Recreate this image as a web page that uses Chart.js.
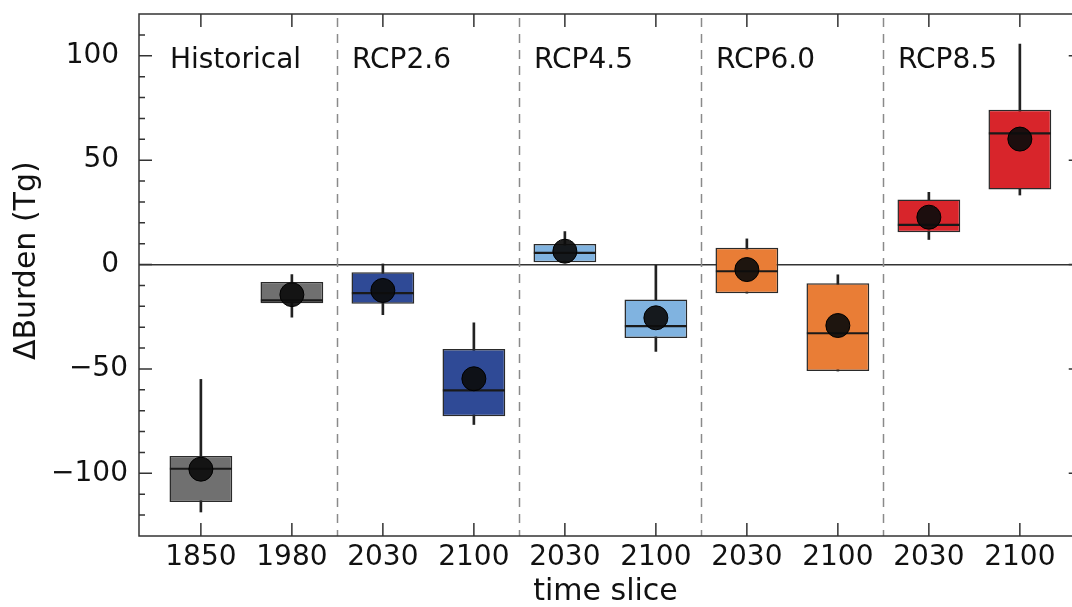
<!DOCTYPE html>
<html>
<head>
<meta charset="utf-8">
<script src="https://cdn.jsdelivr.net/npm/chart.js@4"></script>
<style>
    html, body { margin: 0; padding: 0; overflow: hidden; background: #fff; }
</style>
</head>
<body>
<canvas id="js-boxChart" width="1072" height="607"></canvas>
<script>
const sliceLabels = ['1850', '1980', '2030', '2100', '2030', '2100', '2030', '2100', '2030', '2100'];
const groupNames = ['Historical', 'RCP2.6', 'RCP4.5', 'RCP6.0', 'RCP8.5'];
const yTickValues = [-100, -50, 0, 50, 100];

const whiskerLow  = [-118.5, -25.2, -24.0, -76.6,  1.1, -41.6, -13.7, -51.0, 12.0,  33.3];
const whiskerHigh = [ -55.0,  -4.8,   0.3, -27.9, 15.8,   0.0,  12.3,  -4.9, 34.6, 105.6];
const boxLow      = [-113.7, -18.5, -18.8, -72.7,  1.1, -35.2, -13.7, -51.0, 15.5,  35.9];
const boxHigh     = [ -91.7,  -8.4,  -3.7, -40.4,  9.9, -16.7,   8.0,  -8.9, 31.1,  74.2];
const medians     = [ -97.8, -17.2, -13.7, -60.3,  5.6, -29.5,  -3.2, -32.9, 19.0,  62.8];
const means       = [ -98.0, -14.4, -12.4, -54.7,  6.4, -25.5,  -2.4, -29.2, 22.7,  60.1];

const boxColors = ['#707070', '#707070', '#2f4a96', '#2f4a96', '#80b3e0', '#80b3e0',
                   '#e97d36', '#e97d36', '#d8252b', '#d8252b'];

const textColor = '#111';
const fontFamily = '"DejaVu Sans", "Liberation Sans", sans-serif';

// the original frame runs a little past the cropped right edge of the figure
const frameMaxX = 9.68;

const chartElement = document.getElementById('js-boxChart');

// frame, inward ticks, scenario separators and scenario names
const framePlugin = {
    id: 'frame',
    beforeDatasetsDraw(chart) {
        const {ctx, chartArea: {top, bottom}, scales: {x}} = chart;
        ctx.save();
        ctx.strokeStyle = '#8a8a8a';
        ctx.lineWidth = 1.5;
        ctx.setLineDash([9, 7]);
        for (let g = 1; g < groupNames.length; g++) {
            const px = Math.round(x.getPixelForValue(2 * g - 0.5)) + 0.5;
            ctx.beginPath();
            ctx.moveTo(px, top + 4);
            ctx.lineTo(px, bottom);
            ctx.stroke();
        }
        ctx.restore();
    },
    afterDatasetsDraw(chart) {
        const {ctx, chartArea: {left, top, bottom}, scales: {x, y}} = chart;
        const right = x.getPixelForValue(frameMaxX);
        ctx.save();
        ctx.strokeStyle = '#333';
        ctx.lineWidth = 1.5;
        ctx.strokeRect(left, top, right - left, bottom - top);

        ctx.beginPath();
        for (let v = y.min + 10; v < y.max; v += 10) {
            const len = v % 50 === 0 ? 13 : 6;
            const py = y.getPixelForValue(v);
            ctx.moveTo(left, py);
            ctx.lineTo(left + len, py);
            ctx.moveTo(right, py);
            ctx.lineTo(right - len, py);
        }
        sliceLabels.forEach((_, i) => {
            const px = x.getPixelForValue(i);
            ctx.moveTo(px, bottom);
            ctx.lineTo(px, bottom - 13);
            ctx.moveTo(px, top);
            ctx.lineTo(px, top + 13);
        });
        ctx.stroke();

        ctx.fillStyle = textColor;
        ctx.font = '28px ' + fontFamily;
        ctx.textAlign = 'left';
        ctx.textBaseline = 'alphabetic';
        const py = y.getPixelForValue(100) + 12;
        groupNames.forEach((name, g) => {
            ctx.fillText(name, x.getPixelForValue(2 * g - 0.34), py);
        });
        ctx.restore();
    }
};

const chart = new Chart(chartElement, {
    type: 'bar',
    data: {
        datasets: [
            {
                type: 'bar',
                data: sliceLabels.map((_, i) => ({x: i, y: [whiskerLow[i], whiskerHigh[i]]})),
                backgroundColor: '#222',
                borderWidth: 0,
                barThickness: 2,
                grouped: false,
                order: 4
            },
            {
                type: 'bar',
                data: sliceLabels.map((_, i) => ({x: i, y: [boxLow[i], boxHigh[i]]})),
                backgroundColor: boxColors,
                borderColor: '#2a2a2a',
                borderWidth: 1.5,
                borderSkipped: false,
                barPercentage: 0.69,
                categoryPercentage: 1,
                grouped: false,
                order: 3
            },
            {
                type: 'scatter',
                data: medians.map((v, i) => ({x: i, y: v})),
                pointStyle: 'line',
                pointRadius: 31,
                borderColor: '#1a1a1a',
                borderWidth: 2.2,
                order: 2
            },
            {
                type: 'scatter',
                data: means.map((v, i) => ({x: i, y: v})),
                pointStyle: 'circle',
                pointRadius: 12,
                backgroundColor: 'rgba(12, 12, 12, 0.92)',
                borderColor: '#000',
                borderWidth: 1,
                order: 1
            }
        ]
    },
    options: {
        responsive: false,
        animation: false,
        events: [],
        layout: {autoPadding: false, padding: {top: 14, right: 0, left: 0, bottom: 0}},
        plugins: {
            legend: {display: false},
            tooltip: {enabled: false}
        },
        scales: {
            x: {
                type: 'linear',
                offset: false,
                min: -0.68,
                max: 9.573,
                grid: {display: false},
                border: {display: false},
                afterBuildTicks: scale => {
                    scale.ticks = sliceLabels.map((_, i) => ({value: i}));
                },
                afterFit: scale => {
                    scale.height = 71;
                    scale.paddingLeft = 0;
                    scale.paddingRight = 0;
                },
                ticks: {
                    autoSkip: false,
                    maxRotation: 0,
                    padding: -3,
                    color: textColor,
                    font: {family: fontFamily, size: 28},
                    callback: v => sliceLabels[v]
                },
                title: {
                    display: true,
                    text: 'time slice',
                    color: textColor,
                    font: {family: fontFamily, size: 30, lineHeight: 1},
                    padding: {top: 0, bottom: 0}
                }
            },
            y: {
                min: -130,
                max: 120,
                afterBuildTicks: scale => {
                    scale.ticks = yTickValues.map(v => ({value: v}));
                },
                afterFit: scale => {
                    scale.width = 139;
                    scale.paddingTop = 0;
                    scale.paddingBottom = 0;
                },
                grid: {
                    drawTicks: false,
                    lineWidth: 1.5,
                    color: c => (c.tick && c.tick.value === 0 ? '#333' : 'rgba(0,0,0,0)')
                },
                border: {display: false},
                ticks: {
                    padding: 11,
                    color: textColor,
                    font: {family: fontFamily, size: 28},
                    callback: v => (v < 0 ? '\u2212' + Math.abs(v) : v + ' ')
                },
                title: {
                    display: true,
                    text: '   \u0394Burden (Tg)',
                    color: textColor,
                    font: {family: fontFamily, size: 30},
                    padding: {top: 9, bottom: 0}
                }
            }
        }
    },
    plugins: [framePlugin]
});
</script>
</body>
</html>
